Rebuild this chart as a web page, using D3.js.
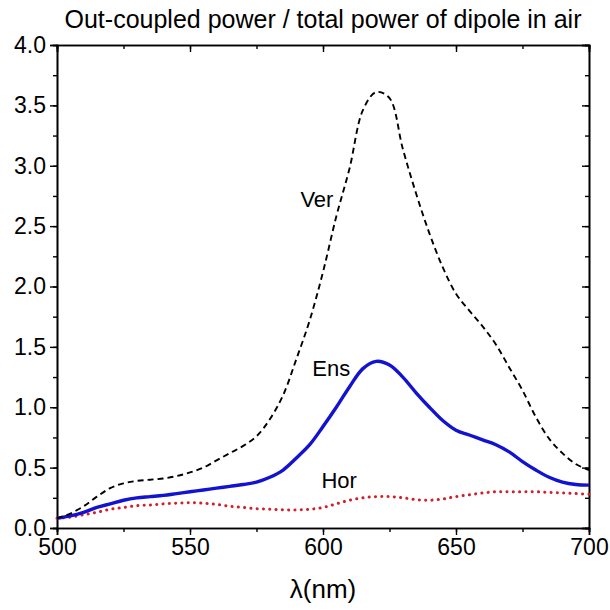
<!DOCTYPE html>
<html lang="en">
<head>
  <meta charset="UTF-8">
  <title>Out-coupled power</title>
  <script src="https://cdn.jsdelivr.net/npm/d3@7"></script>
  <style>
    body { margin: 0; background: #fff; }
    svg text { font-family: Arial, "Liberation Sans", sans-serif; fill: #000; }
  </style>
</head>
<body>
  <div id="chart"></div>
  <script>
    // wavelength grid (nm)
    const wavelengths = [500, 505, 510, 515, 520, 525, 530, 535, 540, 545, 550, 555, 560, 565, 570, 575, 580, 585, 590, 595, 600,
      605, 610, 615, 620, 625, 630, 635, 640, 645, 650, 655, 660, 665, 670, 675, 680, 685, 690, 695, 700];

    const verValues = [0.08, 0.12, 0.18, 0.26, 0.33, 0.37, 0.39, 0.40, 0.41, 0.43, 0.46, 0.50, 0.56, 0.62, 0.68, 0.76, 0.90, 1.10, 1.40, 1.72, 2.12,
      2.58, 2.98, 3.46, 3.61, 3.56, 3.14, 2.77, 2.44, 2.16, 1.94, 1.80, 1.67, 1.52, 1.33, 1.14, 0.92, 0.74, 0.62, 0.53, 0.48];

    const ensValues = [0.08, 0.10, 0.13, 0.17, 0.20, 0.23, 0.25, 0.26, 0.27, 0.285, 0.30, 0.315, 0.33, 0.345, 0.36, 0.38, 0.42, 0.48, 0.58, 0.69, 0.84,
      1.00, 1.17, 1.32, 1.38, 1.35, 1.25, 1.12, 1.00, 0.89, 0.81, 0.77, 0.73, 0.69, 0.63, 0.55, 0.48, 0.42, 0.38, 0.36, 0.355];

    const horValues = [0.08, 0.09, 0.11, 0.13, 0.155, 0.17, 0.185, 0.19, 0.20, 0.205, 0.21, 0.205, 0.195, 0.18, 0.17, 0.16, 0.155, 0.15, 0.15, 0.155, 0.17,
      0.20, 0.23, 0.25, 0.26, 0.26, 0.25, 0.235, 0.23, 0.24, 0.26, 0.275, 0.29, 0.30, 0.30, 0.30, 0.30, 0.295, 0.29, 0.285, 0.28];

    const xTicks = [500, 550, 600, 650, 700];
    const yTicks = [0, 0.5, 1.0, 1.5, 2.0, 2.5, 3.0, 3.5, 4.0];

    // curve names and where their labels sit (data coords)
    const curveLabels = ["Ver", "Ens", "Hor"];
    const labelLambda = [591.5, 596, 599.4];
    const labelValue = [2.66, 1.26, 0.33];

    const width = 610;
    const height = 610;
    const margin = { top: 45, right: 21, bottom: 82, left: 57 };

    const svg = d3.select("#chart")
      .append("svg")
      .attr("width", width)
      .attr("height", height);

    const x = d3.scaleLinear()
      .domain([500, 700])
      .range([margin.left, width - margin.right]);

    const y = d3.scaleLinear()
      .domain([0, 4])
      .range([height - margin.bottom, margin.top]);

    const minorX = d3.range(500, 701, 25);
    const minorY = d3.range(0, 4.01, 0.25);

    // bottom axis: outward ticks
    const axisB = svg.append("g")
      .attr("transform", `translate(0,${height - margin.bottom})`);
    axisB.call(d3.axisBottom(x).tickValues(minorX).tickSize(4).tickFormat(""));
    axisB.append("g").call(d3.axisBottom(x).tickValues(xTicks).tickSize(7).tickPadding(4).tickFormat(d3.format("d")));

    // left axis: outward ticks
    const axisL = svg.append("g")
      .attr("transform", `translate(${margin.left},0)`);
    axisL.call(d3.axisLeft(y).tickValues(minorY).tickSize(4).tickFormat(""));
    axisL.append("g").call(d3.axisLeft(y).tickValues(yTicks).tickSize(7).tickPadding(4).tickFormat(d3.format(".1f")));

    // top axis: inward ticks
    const axisT = svg.append("g")
      .attr("transform", `translate(0,${margin.top})`);
    axisT.call(d3.axisTop(x).tickValues(minorX).tickSize(-4).tickFormat(""));
    axisT.append("g").call(d3.axisTop(x).tickValues(xTicks).tickSize(-7).tickFormat(""));

    // right axis: inward ticks
    const axisR = svg.append("g")
      .attr("transform", `translate(${width - margin.right},0)`);
    axisR.call(d3.axisRight(y).tickValues(minorY).tickSize(-4).tickFormat(""));
    axisR.append("g").call(d3.axisRight(y).tickValues(yTicks).tickSize(-7).tickFormat(""));

    svg.selectAll(".domain").attr("stroke", "#000").attr("stroke-width", 1.6);
    svg.selectAll(".tick line").attr("stroke", "#000").attr("stroke-width", 1.4);
    svg.selectAll(".tick text").style("font-size", "23px");

    const line = vals => d3.line()
      .x((d, i) => x(wavelengths[i]))
      .y(d => y(d))
      .curve(d3.curveCatmullRom.alpha(0.5))(vals);

    // Hor (red dotted)
    svg.append("path")
      .attr("d", line(horValues))
      .attr("fill", "none")
      .attr("stroke", "#d0202c")
      .attr("stroke-width", 3)
      .attr("stroke-linecap", "round")
      .attr("stroke-dasharray", "0.1 6.2");

    // Ens (blue solid)
    svg.append("path")
      .attr("d", line(ensValues))
      .attr("fill", "none")
      .attr("stroke", "#1212d0")
      .attr("stroke-width", 3.4);

    // Ver (black dashed)
    svg.append("path")
      .attr("d", line(verValues))
      .attr("fill", "none")
      .attr("stroke", "#000")
      .attr("stroke-width", 1.9)
      .attr("stroke-dasharray", "6 4");

    // curve labels
    svg.selectAll(".curve-label")
      .data(curveLabels)
      .join("text")
      .attr("class", "curve-label")
      .attr("x", (d, i) => x(labelLambda[i]))
      .attr("y", (d, i) => y(labelValue[i]))
      .style("font-size", "22px")
      .text(d => d);

    // title
    svg.append("text")
      .attr("x", 323)
      .attr("y", 28)
      .attr("text-anchor", "middle")
      .style("font-size", "25px")
      .text("Out-coupled power / total power of dipole in air");

    // x label
    svg.append("text")
      .attr("x", (margin.left + width - margin.right) / 2)
      .attr("y", 598)
      .attr("text-anchor", "middle")
      .style("font-size", "26px")
      .text("λ(nm)");
  </script>
</body>
</html>
